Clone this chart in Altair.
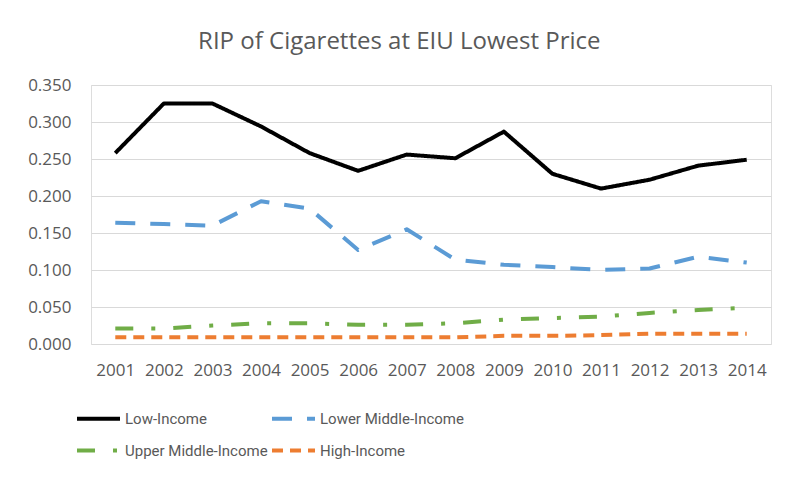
import altair as alt
import pandas as pd

years = [str(y) for y in range(2001, 2015)]
series_names = ["Low-Income", "Lower Middle-Income", "Upper Middle-Income", "High-Income"]
low_income = [0.258, 0.325, 0.325, 0.294, 0.258, 0.234, 0.256, 0.251, 0.287, 0.230, 0.210, 0.222, 0.241, 0.249]
lower_middle = [0.164, 0.162, 0.160, 0.193, 0.183, 0.127, 0.155, 0.114, 0.107, 0.104, 0.100, 0.102, 0.118, 0.110]
upper_middle = [0.021, 0.021, 0.025, 0.028, 0.028, 0.026, 0.026, 0.028, 0.033, 0.035, 0.037, 0.042, 0.046, 0.049]
high_income = [0.009, 0.009, 0.009, 0.009, 0.009, 0.009, 0.009, 0.009, 0.011, 0.011, 0.012, 0.014, 0.014, 0.014]
colors = ["#000000", "#5B9BD5", "#70AD47", "#ED7D31"]
dashes = [[1, 0], [20, 15], [18, 18, 4, 18], [11, 7]]

rows = []
for name, vals in zip(series_names, [low_income, lower_middle, upper_middle, high_income]):
    for y, v in zip(years, vals):
        rows.append({"Year": y, "Value": v, "Series": name})
df = pd.DataFrame(rows)

FONT = "Open Sans, sans-serif"
LFONT = "Roboto, sans-serif"
GRAY = "#595959"

chart = alt.Chart(df).mark_line(strokeWidth=4, strokeCap="butt", strokeJoin="round").encode(
    x=alt.X("Year:O", sort=years, scale=alt.Scale(type="point", padding=0.5),
            axis=alt.Axis(title=None, labelAngle=0, ticks=False, domain=False,
                          labelFontSize=17, labelColor=GRAY, labelFont=FONT, labelPadding=18)),
    y=alt.Y("Value:Q", scale=alt.Scale(domain=[0, 0.35], nice=False),
            axis=alt.Axis(title=None, values=[0, 0.05, 0.1, 0.15, 0.2, 0.25, 0.3, 0.35], format=".3f",
                          ticks=False, domain=False, gridColor="#d9d9d9", gridWidth=1,
                          labelFontSize=17, labelColor=GRAY, labelFont=FONT, labelPadding=20)),
    color=alt.Color("Series:N", scale=alt.Scale(domain=series_names, range=colors),
                    legend=alt.Legend(title=None, orient="none", legendX=-16, legendY=310,
                                      direction="horizontal",
                                      columns=2, columnPadding=-4, rowPadding=-1,
                                      symbolType="stroke", symbolSize=1849, symbolStrokeWidth=4,
                                      labelFontSize=15, labelColor=GRAY, labelFont=LFONT,
                                      labelOffset=3, labelLimit=400)),
    strokeDash=alt.StrokeDash("Series:N", scale=alt.Scale(domain=series_names, range=dashes), legend=None),
    detail="Series:N",
).properties(
    width=680,
    height=259,
    title=alt.TitleParams("RIP of Cigarettes at EIU Lowest Price", fontSize=24, font=FONT,
                          color=GRAY, fontWeight="normal", anchor="middle", frame="bounds", offset=22),
    autosize=alt.AutoSizeParams(type="none"),
    padding={"left": 83, "top": 77, "right": 13, "bottom": 129},
).configure_view(stroke=None).configure(background="white")

chart.save("out.html", embed_options={"renderer": "svg", "actions": False})
